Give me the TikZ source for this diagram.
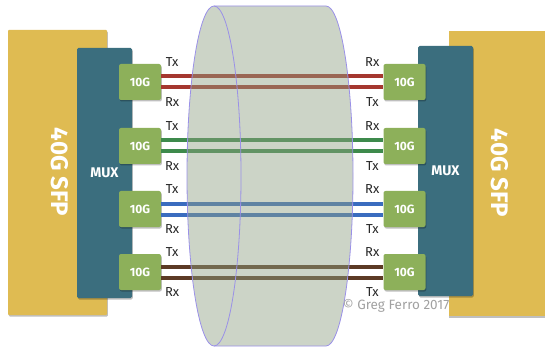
\documentclass[tikz,border=0pt]{standalone}
\usepackage{fontspec}
\setmainfont{Fira Sans}
\usetikzlibrary{shadows}

\definecolor{sfpYellow}{HTML}{DFBB52}
\definecolor{muxTeal}{HTML}{3B6E7E}
\definecolor{boxGreen}{HTML}{8DB05A}
\definecolor{fibRed}{HTML}{A5372F}
\definecolor{fibGreen}{HTML}{3E8A4C}
\definecolor{fibBlue}{HTML}{3A6CBF}
\definecolor{fibBrown}{HTML}{5C3A25}
\definecolor{cylFill}{HTML}{8EA082}
\definecolor{cylLine}{HTML}{9A90E8}

\begin{document}
\begin{tikzpicture}[x=1pt, y=-1pt,
    shade/.style={drop shadow={shadow xshift=0.8pt, shadow yshift=-1.5pt, fill=black, opacity=0.25}},
    sfp/.style={fill=sfpYellow, rounded corners=1pt, shade, minimum width=99pt, minimum height=285pt, inner sep=0pt},
    sfptext/.style={text=white, font=\fontsize{24}{26}\selectfont\bfseries, rotate=-90},
    mux/.style={fill=muxTeal, rounded corners=1.5pt, shade, minimum width=55pt, minimum height=250pt, inner sep=0pt,
        text=white, font=\fontsize{14}{16}\selectfont\bfseries},
    tengbox/.style={fill=boxGreen, rounded corners=2pt, shade, minimum width=42pt, minimum height=36pt, inner sep=0pt,
        text=white, font=\fontsize{12}{14}\selectfont\bfseries},
    port/.style={font=\fontsize{13}{15}\selectfont, text=black!85},
    fibre/.style={line width=4pt},
    cylline/.style={draw=cylLine, line width=0.8pt},
]
\useasboundingbox (0,0) rectangle (545,347);

% 40G SFP modules
\node[sfp] (sfpL) at (57.5,172.5) {};
\node[sfptext] (sfpLtext) at (60,172) {40G SFP};
\node[sfp, minimum width=97pt, rounded corners=0pt] (sfpR) at (497,173.5) {};
\node[sfptext] (sfpRtext) at (500,173) {40G SFP};

% multiplexers
\node[mux] (muxL) at (104.5,173) {MUX};
\node[mux] (muxR) at (445.5,171) {MUX};

% 10G lanes
\foreach \y [count=\i] in {82,146,209,272} {
    \node[tengbox] (l\i) at (140,\y) {10G};
    \node[tengbox] (r\i) at (404.5,\y) {10G};
}

% Tx/Rx fibre pairs
\foreach \i/\col in {1/fibRed, 2/fibGreen, 3/fibBlue, 4/fibBrown} {
    \draw[fibre, \col] ([yshift=5.5pt]l\i.east) -- ([yshift=5.5pt]r\i.west);
    \draw[fibre, \col] ([yshift=-5.5pt]l\i.east) -- ([yshift=-5.5pt]r\i.west);
    \node[port] at ([xshift=11pt, yshift=20pt]l\i.east) {Tx};
    \node[port] at ([xshift=11pt, yshift=-20pt]l\i.east) {Rx};
    \node[port] at ([xshift=-11pt, yshift=20pt]r\i.west) {Rx};
    \node[port] at ([xshift=-11pt, yshift=-20pt]r\i.west) {Tx};
}

% cable (translucent cylinder)
\fill[cylFill, fill opacity=0.45]
    (214,6) -- (326,6) arc[start angle=90, end angle=-90, x radius=27pt, y radius=170pt]
    -- (214,346) arc[start angle=270, end angle=90, x radius=27pt, y radius=170pt] -- cycle;
\draw[cylline] (214,176) ellipse[x radius=27pt, y radius=170pt];
\draw[cylline] (214,6) -- (326,6)
    arc[start angle=90, end angle=-90, x radius=27pt, y radius=170pt] -- (214,346);

% credit
\node[font=\fontsize{13.5}{15}\selectfont, text=black!37] (credit) at (396,305.5) {© Greg Ferro 2017};

\end{tikzpicture}
\end{document}
